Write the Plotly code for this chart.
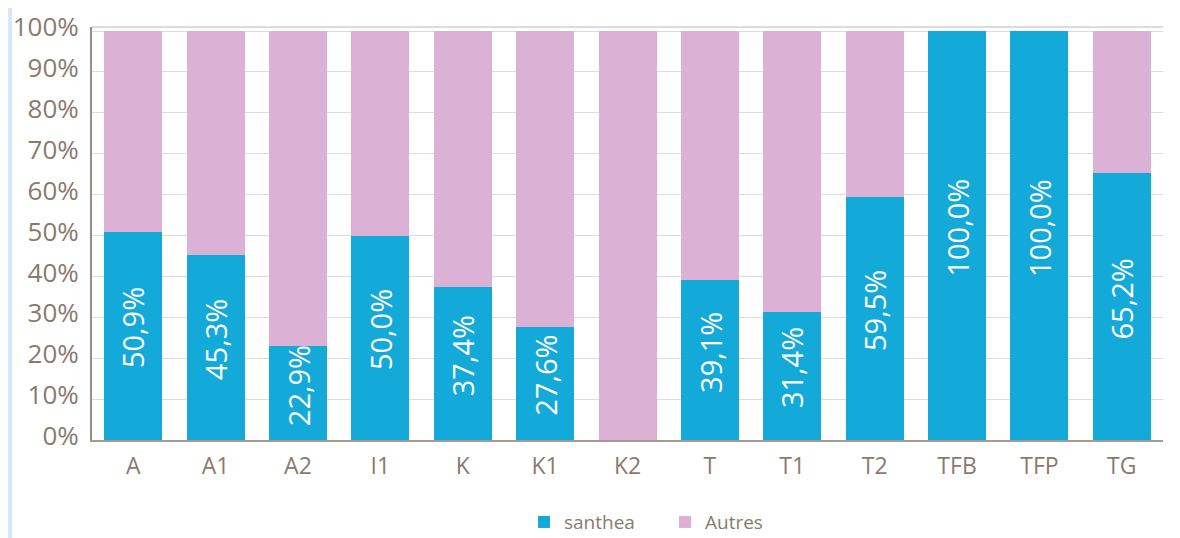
import plotly.graph_objects as go

categories = ["A", "A1", "A2", "I1", "K", "K1", "K2", "T", "T1", "T2", "TFB", "TFP", "TG"]
santhea = [0.509, 0.453, 0.229, 0.500, 0.374, 0.276, 0.0, 0.391, 0.314, 0.595, 1.0, 1.0, 0.652]
autres = [round(1 - v, 3) for v in santhea]
label_texts = ["50,9%", "45,3%", "22,9%", "50,0%", "37,4%", "27,6%", "", "39,1%", "31,4%", "59,5%", "100,0%", "100,0%", "65,2%"]
tick_vals = [i / 10 for i in range(11)]
tick_text = [f"{i * 10}%" for i in range(11)]

BLUE = "#13a9d8"
PINK = "#dbb1d6"
TXT = "#8a7a6e"
FONT = "Open Sans"

fig = go.Figure()
fig.add_trace(go.Bar(x=categories, y=santhea, name="santhea", marker=dict(color=BLUE, line=dict(width=0))))
fig.add_trace(go.Bar(x=categories, y=autres, name="Autres", marker=dict(color=PINK, line=dict(width=0))))

for c, v, t in zip(categories, santhea, label_texts):
    if t:
        fig.add_annotation(x=c, y=v / 2, text=t, textangle=-90, showarrow=False,
                           yshift=8, font=dict(family=FONT, size=29, color="white"))

fig.update_layout(
    barmode="stack",
    bargap=0.296,
    width=1172, height=530,
    margin=dict(l=84, r=17, t=19, b=98, autoexpand=False),
    paper_bgcolor="white", plot_bgcolor="white",
    font=dict(family=FONT, color=TXT),
    legend=dict(orientation="h", x=0.535, xanchor="center",
                yref="container", y=0.03, yanchor="middle",
                font=dict(size=19, color=TXT), traceorder="normal", entrywidth=96,
                itemwidth=30),
    showlegend=True,
)
fig.update_yaxes(range=[0, 1.01], tickvals=tick_vals, ticktext=tick_text,
                 showgrid=True, gridcolor="#dcdcdc", gridwidth=1,
                 showline=True, linecolor="#9a8c82", linewidth=2,
                 tickfont=dict(size=26, color=TXT), ticks="",
                 ticklabelshift=-4, ticklabelstandoff=6, zeroline=False,
                 ticklabeloverflow="allow", automargin=False)
fig.update_xaxes(showline=True, linecolor="#a89a90", linewidth=2,
                 tickfont=dict(size=23, color=TXT), ticks="", ticklabelstandoff=4,
                 automargin=False)

# top border line of the plot area
fig.add_shape(type="line", xref="paper", yref="paper", x0=0, x1=1, y0=1, y1=1,
              line=dict(color="#dcdcdc", width=2))
# faint light-blue strip at left edge of page
fig.add_shape(type="line", xref="paper", yref="paper", x0=-0.0765, x1=-0.0765, y0=-0.24, y1=1.05,
              line=dict(color="#d6e9f7", width=4))

fig.write_html("out.html")
